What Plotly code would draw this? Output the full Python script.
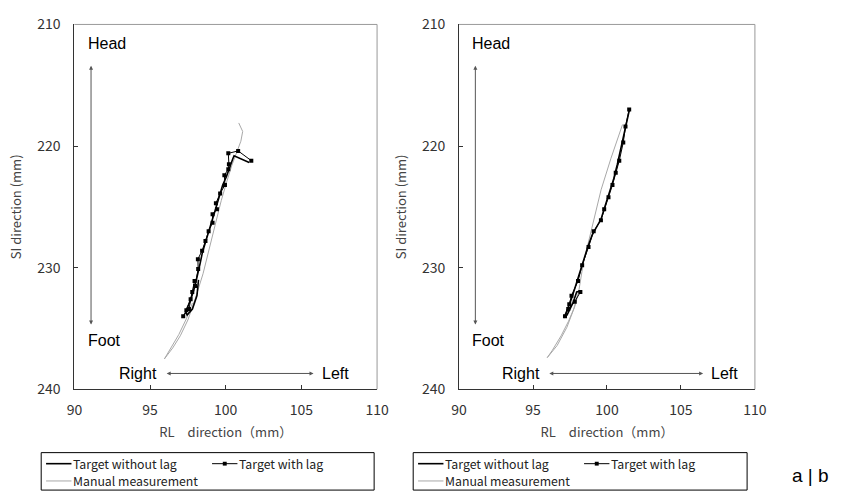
import plotly.graph_objects as go

# ---------------- data ----------------
x_ticks = [90, 95, 100, 105, 110]
y_ticks = [210, 220, 230, 240]

# Panel a
a_nolag_x = [98.2, 98.1, 97.8, 97.45, 97.35, 97.7, 97.95, 98.15, 98.3, 98.45, 98.65, 98.85,
             99.05, 99.25, 99.45, 99.6, 99.8, 100.05, 100.2, 100.35, 100.45, 100.55, 101.55]
a_nolag_y = [231.0, 232.3, 233.4, 233.9, 233.6, 232.6, 231.6, 230.6, 229.7, 228.8, 227.9, 227.1,
             226.3, 225.5, 224.7, 224.0, 223.2, 222.5, 221.9, 221.4, 221.1, 220.8, 221.35]
a_lag_x = [97.94, 97.68, 97.40, 97.19, 97.57, 97.79, 97.97, 98.18, 98.16, 98.44, 98.66, 98.87,
           99.13, 99.13, 99.42, 99.35, 99.63, 99.95, 99.91, 100.17, 100.21, 100.17, 100.82, 101.69]
a_lag_y = [231.1, 232.6, 233.5, 234.0, 233.4, 232.0, 231.5, 230.1, 229.3, 228.6, 227.8, 227.0,
           226.3, 225.6, 225.2, 224.7, 223.9, 223.2, 222.4, 221.9, 221.5, 220.6, 220.4, 221.2]
a_man_x = [100.86, 101.12, 101.0, 100.7, 100.4, 100.1, 99.7, 99.3, 98.9, 98.5, 98.0, 97.5,
           97.0, 96.5, 95.95, 96.3, 96.9, 97.4, 97.8]
a_man_y = [218.1, 218.8, 219.6, 220.6, 221.6, 222.8, 224.5, 226.5, 228.5, 230.5, 232.5, 234.3,
           235.6, 236.6, 237.5, 236.8, 235.5, 234.2, 232.9]

# Panel b
b_nolag_x = [98.3, 97.95, 97.7, 97.3, 97.1, 97.5, 97.8, 98.1, 98.4, 98.7, 99.0, 99.3, 99.6,
             99.85, 100.15, 100.45, 100.7, 100.95, 101.2, 101.5]
b_nolag_y = [231.9, 232.0, 232.9, 233.9, 234.1, 232.9, 231.8, 230.6, 229.4, 228.3, 227.3, 226.6,
             226.0, 225.0, 223.9, 222.7, 221.5, 220.2, 218.8, 217.1]
b_lag_x = [98.2, 97.82, 97.38, 97.16, 97.45, 97.6, 98.04, 98.32, 98.75, 99.10, 99.59, 99.81,
           100.10, 100.37, 100.59, 100.83, 101.10, 101.25, 101.5]
b_lag_y = [232.0, 232.8, 233.4, 234.0, 233.0, 232.3, 231.1, 229.8, 228.3, 227.0, 226.1, 225.2,
           224.2, 223.2, 222.2, 221.2, 219.7, 218.4, 217.0]
b_man_x = [101.05, 100.27, 99.60, 99.17, 98.84, 98.39, 98.11, 97.85, 97.29, 96.63, 95.96,
           96.3, 96.9, 97.4, 97.75, 98.0]
b_man_y = [218.23, 221.0, 223.6, 225.7, 227.3, 229.7, 231.8, 233.1, 234.9, 236.4, 237.4,
           236.8, 235.6, 234.4, 233.4, 232.3]

legend_names = ["Target without lag", "Target with lag", "Manual measurement"]
x_title = "RL\u3000direction\uff08mm\uff09"
y_title = "SI direction (mm)"

# ---------------- figure ----------------
W, H = 846, 501
def px(v):
    return v / W
def py(v):
    return 1 - v / H

fig = go.Figure()
TICKFONT = dict(family="Noto Sans CJK JP, sans-serif", size=14, color="#333")
LABFONT = dict(family="Liberation Sans, Arial, sans-serif", size=16, color="#000")

panels = [
    ("x", "y", a_nolag_x, a_nolag_y, a_lag_x, a_lag_y, a_man_x, a_man_y),
    ("x2", "y2", b_nolag_x, b_nolag_y, b_lag_x, b_lag_y, b_man_x, b_man_y),
]
for xa, ya, nx, ny, lx, ly, mx, my in panels:
    fig.add_trace(go.Scatter(x=mx, y=my, mode="lines", name=legend_names[2],
                             line=dict(color="#a8a8a8", width=1), xaxis=xa, yaxis=ya,
                             showlegend=False))
    fig.add_trace(go.Scatter(x=nx, y=ny, mode="lines", name=legend_names[0],
                             line=dict(color="#000", width=1.6), xaxis=xa, yaxis=ya,
                             showlegend=False))
    fig.add_trace(go.Scatter(x=lx, y=ly, mode="lines+markers", name=legend_names[1],
                             line=dict(color="#000", width=1),
                             marker=dict(symbol="square", size=4, color="#000"),
                             xaxis=xa, yaxis=ya, showlegend=False))

def xaxis(dom, anchor):
    return dict(domain=dom, anchor=anchor, range=[90, 110], tickvals=x_ticks,
                ticks="inside", ticklen=4, tickcolor="#333", showgrid=False, zeroline=False,
                showline=True, linecolor="#333", linewidth=1, mirror=False,
                tickfont=TICKFONT, ticklabelstandoff=8,
                title=dict(text=x_title, font=dict(family="Noto Sans CJK JP, sans-serif",
                                                   size=13, color="#444"), standoff=9))

def yaxis(dom, anchor):
    return dict(domain=dom, anchor=anchor, range=[240, 210], tickvals=y_ticks,
                ticks="inside", ticklen=4, tickcolor="#333", showgrid=False, zeroline=False,
                showline=True, linecolor="#333", linewidth=1, mirror=False,
                tickfont=TICKFONT, ticklabelstandoff=10,
                title=dict(text=y_title, font=dict(family="Noto Sans CJK JP, sans-serif",
                                                   size=13, color="#444"), standoff=12))

ydom = [py(394), py(14)]
fig.update_layout(
    width=W, height=H, margin=dict(l=0, r=0, t=0, b=0),
    paper_bgcolor="white", plot_bgcolor="white",
    xaxis=xaxis([px(68), px(378)], "y"),
    yaxis=yaxis(ydom, "x"),
    xaxis2=xaxis([px(462), px(765)], "y2"),
    yaxis2=yaxis(ydom, "x2"),
)

shapes = []
annotations = []
for i, (xa, ya) in enumerate([("x", "y"), ("x2", "y2")]):
    xd = xa + " domain"
    yd = ya + " domain"
    # gray top/right frame
    shapes.append(dict(type="line", xref=xd, yref=yd, x0=0, x1=1, y0=1, y1=1,
                       line=dict(color="#999", width=1)))
    shapes.append(dict(type="line", xref=xd, yref=yd, x0=1, x1=1, y0=0, y1=1,
                       line=dict(color="#999", width=1)))
    # double arrows
    hx1 = 105.8 if i == 0 else 106.5
    annotations.append(dict(x=91.1, y=213.4, ax=91.1, ay=234.8, xref=xa, yref=ya,
                            axref=xa, ayref=ya, text="", showarrow=True, arrowhead=2,
                            startarrowhead=2, arrowside="end+start", arrowsize=0.8,
                            startarrowsize=0.8, arrowwidth=1, arrowcolor="#555"))
    annotations.append(dict(x=hx1, y=238.7, ax=96.0, ay=238.7, xref=xa, yref=ya,
                            axref=xa, ayref=ya, text="", showarrow=True, arrowhead=2,
                            startarrowhead=2, arrowside="end+start", arrowsize=0.8,
                            startarrowsize=0.8, arrowwidth=1, arrowcolor="#555"))
    annotations.append(dict(x=90.75, y=211.6, xref=xa, yref=ya, text="Head", showarrow=False,
                            xanchor="left", yanchor="middle", font=LABFONT))
    annotations.append(dict(x=90.75, y=236.0, xref=xa, yref=ya, text="Foot", showarrow=False,
                            xanchor="left", yanchor="middle", font=LABFONT))
    annotations.append(dict(x=95.6, y=238.7, xref=xa, yref=ya, text="Right", showarrow=False,
                            xanchor="right", yanchor="middle", font=LABFONT))
    annotations.append(dict(x=hx1 + 0.4, y=238.7, xref=xa, yref=ya, text="Left",
                            showarrow=False, xanchor="left", yanchor="middle", font=LABFONT))

# manual legends
LEGFONT = dict(family="Noto Sans CJK JP, sans-serif", size=12.3, color="#222")
for bx0, bx1 in [(34, 375), (415, 757)]:
    shapes.append(dict(type="rect", xref="paper", yref="paper", x0=px(bx0), x1=px(bx1),
                       y0=py(499), y1=py(460), line=dict(color="#000", width=1)))
    r1, r2 = 471.5, 489.5
    # item 1
    shapes.append(dict(type="line", xref="paper", yref="paper", x0=px(bx0 + 5), x1=px(bx0 + 31),
                       y0=py(r1), y1=py(r1), line=dict(color="#000", width=1.6)))
    annotations.append(dict(x=px(bx0 + 32), y=py(r1), xref="paper", yref="paper",
                            text=legend_names[0], showarrow=False, xanchor="left",
                            yanchor="middle", font=LEGFONT, borderpad=0))
    # item 2
    lx0 = bx0 + 175
    shapes.append(dict(type="line", xref="paper", yref="paper", x0=px(lx0), x1=px(lx0 + 26),
                       y0=py(r1), y1=py(r1), line=dict(color="#000", width=1)))
    shapes.append(dict(type="rect", xref="paper", yref="paper", x0=px(lx0 + 11), x1=px(lx0 + 15),
                       y0=py(r1 + 2), y1=py(r1 - 2), fillcolor="#000", line=dict(width=0)))
    annotations.append(dict(x=px(lx0 + 27), y=py(r1), xref="paper", yref="paper",
                            text=legend_names[1], showarrow=False, xanchor="left",
                            yanchor="middle", font=LEGFONT, borderpad=0))
    # item 3
    shapes.append(dict(type="line", xref="paper", yref="paper", x0=px(bx0 + 5), x1=px(bx0 + 31),
                       y0=py(r2), y1=py(r2), line=dict(color="#a8a8a8", width=1)))
    annotations.append(dict(x=px(bx0 + 32), y=py(r2), xref="paper", yref="paper",
                            text=legend_names[2], showarrow=False, xanchor="left",
                            yanchor="middle", font=LEGFONT, borderpad=0))

annotations.append(dict(x=px(822), y=py(484), xref="paper", yref="paper", text="a | b",
                        showarrow=False, xanchor="center", yanchor="middle",
                        font=dict(family="Liberation Sans, Arial, sans-serif", size=19,
                                  color="#000")))

fig.update_layout(shapes=shapes, annotations=annotations)
fig.write_html("out.html")
